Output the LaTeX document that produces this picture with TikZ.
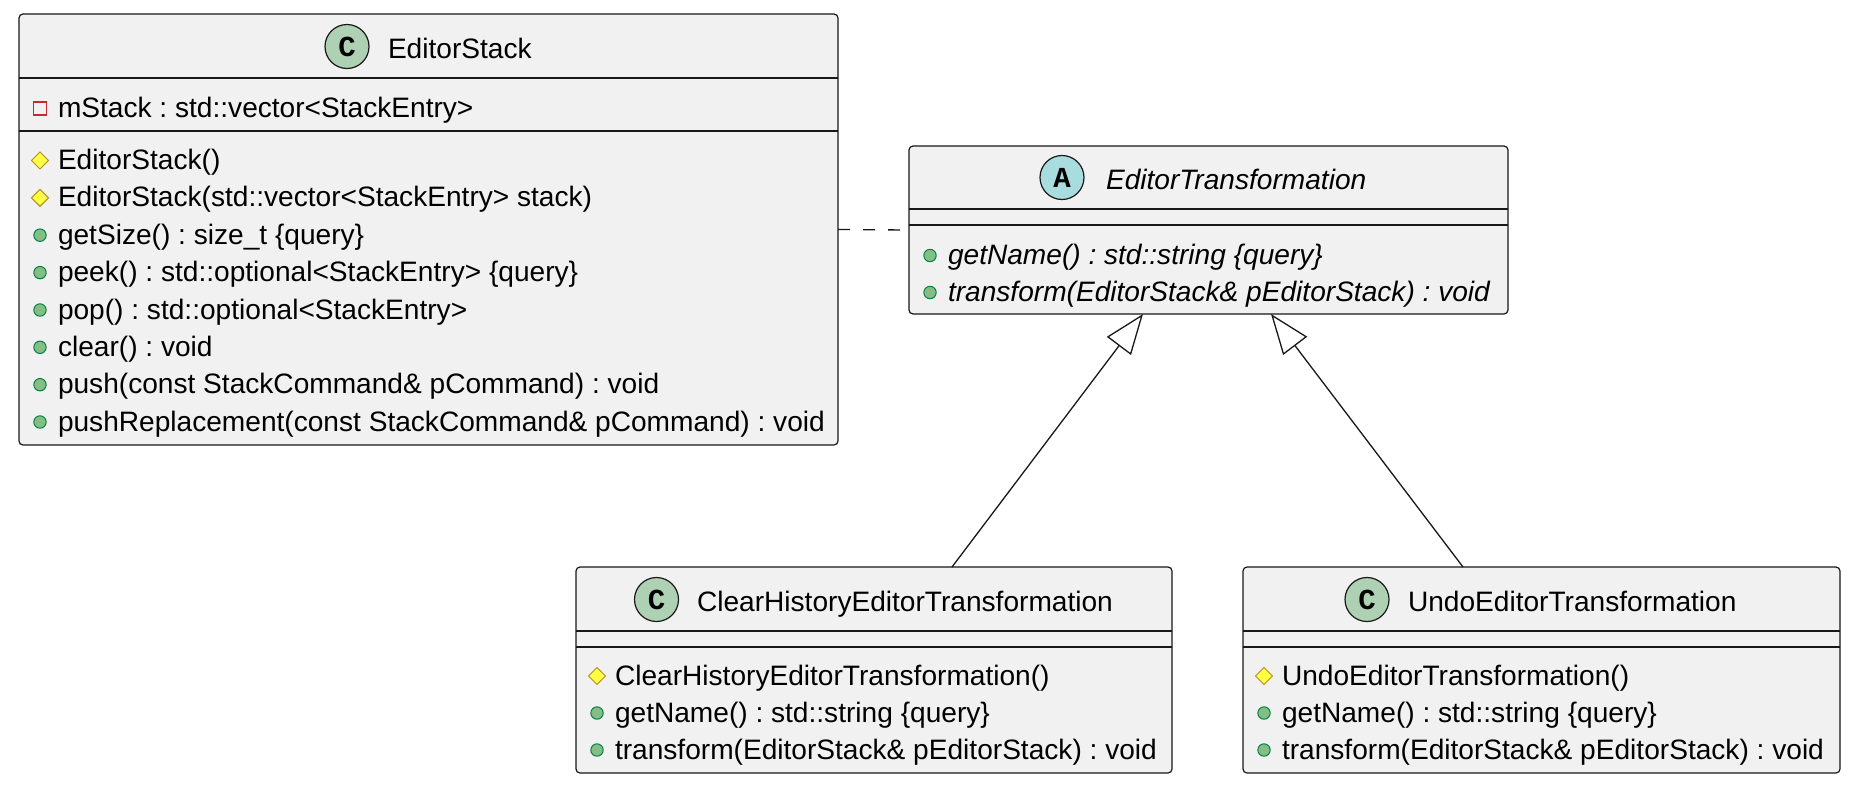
\documentclass[tikz,border=0pt]{standalone}
\usepackage{fontspec}
\setmainfont{Liberation Sans}
\newfontfamily\circfont{Liberation Mono}
\usetikzlibrary{arrows.meta,calc}
\definecolor{boxfill}{HTML}{F1F1F1}
\definecolor{edge}{HTML}{181818}
\definecolor{cfill}{HTML}{ADD1B2}
\definecolor{afill}{HTML}{A9DCDF}
\definecolor{pubfill}{HTML}{84BE84}
\definecolor{publine}{HTML}{038048}
\definecolor{protfill}{HTML}{FFFF44}
\definecolor{protline}{HTML}{B38D22}
\definecolor{privline}{HTML}{C82930}
\frenchspacing
\newcommand\umlfont{\fontsize{28.1}{34}\selectfont}
\newcommand\iconPub[2]{\draw[pubicon] (#1,#2) circle (6.2pt);}
\newcommand\iconProt[2]{\draw[proticon] (#1,#2-8.5) -- (#1+8.5,#2) -- (#1,#2+8.5) -- (#1-8.5,#2) -- cycle;}
\newcommand\iconPriv[2]{\draw[privicon] (#1-6.5,#2-6.5) rectangle (#1+6.5,#2+6.5);}
\tikzset{
  classbox/.style={rectangle, draw=edge, fill=boxfill, line width=1.2pt, rounded corners=4pt, inner sep=0pt, outer sep=0pt},
  seprule/.style={draw=edge, line width=1.2pt},
  member/.style={anchor=base west, inner sep=0pt, outer sep=0pt, font=\umlfont, text=black},
  absmember/.style={member, font=\umlfont\itshape},
  badge/.style={circle, draw=edge, line width=1.2pt, minimum size=44pt, inner sep=0pt, font=\circfont\bfseries\fontsize{29}{29}\selectfont},
  pubicon/.style={draw=publine, fill=pubfill, line width=1pt},
  proticon/.style={draw=protline, fill=protfill, line width=1pt},
  privicon/.style={draw=privline, line width=1.2pt},
  inherit/.style={draw=edge, line width=1.3pt, -{Triangle[open, length=40pt, width=30pt]}},
  realize/.style={draw=edge, line width=1.3pt, dash pattern=on 12pt off 13pt},
}
\begin{document}
\begin{tikzpicture}[x=1pt,y=-1pt]
\useasboundingbox[fill=white] (0,0) rectangle (1853,785);

% ---------- EditorStack ----------
\node[classbox, minimum width=819pt, minimum height=431pt] (es) at (428.5,229.5) {};
\draw[seprule] (es.west |- 0,78) -- (es.east |- 0,78);
\draw[seprule] (es.west |- 0,131) -- (es.east |- 0,131);
\node[badge, fill=cfill] (esB) at (347,46.5) {C};
\node[member] (esT) at (388,58) {EditorStack};
\node[member] (esA1) at (58,117.5) {mStack : std::vector<StackEntry>};
\iconPriv{40}{108.5}
\foreach \n/\y/\k/\t in {
  1/159.5/Prot/{EditorStack()},
  2/196.9/Prot/{EditorStack(std::vector<StackEntry> stack)},
  3/234.2/Pub/{getSize() : size\_t \{query\}},
  4/271.6/Pub/{peek() : std::optional<StackEntry> \{query\}},
  5/309.0/Pub/{pop() : std::optional<StackEntry>},
  6/346.3/Pub/{clear() : void},
  7/383.7/Pub/{push(const StackCommand\& pCommand) : void},
  8/421.0/Pub/{pushReplacement(const StackCommand\& pCommand) : void}}{
  \node[member] (esM\n) at (58,\y+10) {\t};
  \csname icon\k\endcsname{40}{\y+1}
}

% ---------- EditorTransformation ----------
\node[classbox, minimum width=599pt, minimum height=168pt] (et) at (1208.5,230) {};
\draw[seprule] (et.west |- 0,209) -- (et.east |- 0,209);
\draw[seprule] (et.west |- 0,225) -- (et.east |- 0,225);
\node[badge, fill=afill] (etB) at (1062,177.5) {A};
\node[absmember] (etT) at (1106,189.5) {EditorTransformation};
\node[absmember] (etM1) at (948,264.5) {getName() : std::string \{query\}};
\iconPub{930}{255.5}
\node[absmember] (etM2) at (948,301.5) {transform(EditorStack\& pEditorStack) : void};
\iconPub{930}{292.5}

% ---------- ClearHistoryEditorTransformation ----------
\node[classbox, minimum width=596pt, minimum height=206pt] (cl) at (874,670) {};
\draw[seprule] (cl.west |- 0,631) -- (cl.east |- 0,631);
\draw[seprule] (cl.west |- 0,647) -- (cl.east |- 0,647);
\node[badge, fill=cfill] (clB) at (656.5,599.5) {C};
\node[member] (clT) at (697,611) {ClearHistoryEditorTransformation};
\node[member] (clM1) at (615,685) {ClearHistoryEditorTransformation()};
\iconProt{597}{676}
\node[member] (clM2) at (615,722) {getName() : std::string \{query\}};
\iconPub{597}{713}
\node[member] (clM3) at (615,759) {transform(EditorStack\& pEditorStack) : void};
\iconPub{597}{750}

% ---------- UndoEditorTransformation ----------
\node[classbox, minimum width=597pt, minimum height=206pt] (un) at (1541.5,670) {};
\draw[seprule] (un.west |- 0,631) -- (un.east |- 0,631);
\draw[seprule] (un.west |- 0,647) -- (un.east |- 0,647);
\node[badge, fill=cfill] (unB) at (1367,599.5) {C};
\node[member] (unT) at (1408,611) {UndoEditorTransformation};
\node[member] (unM1) at (1282,685) {UndoEditorTransformation()};
\iconProt{1264}{676}
\node[member] (unM2) at (1282,722) {getName() : std::string \{query\}};
\iconPub{1264}{713}
\node[member] (unM3) at (1282,759) {transform(EditorStack\& pEditorStack) : void};
\iconPub{1264}{750}

% ---------- connectors ----------
\coordinate (clTop) at ($(cl.north west)+(376,0)$);
\coordinate (unTop) at ($(un.north west)+(220,0)$);
\coordinate (etTipA) at ($(et.south west)+(234,0)$);
\coordinate (etTipB) at ($(et.south west)+(362,0)$);
\draw[inherit] (clTop) -- (etTipA);
\draw[inherit] (unTop) -- (etTipB);
\draw[realize] (es.east) -- (et.west);
\end{tikzpicture}
\end{document}
